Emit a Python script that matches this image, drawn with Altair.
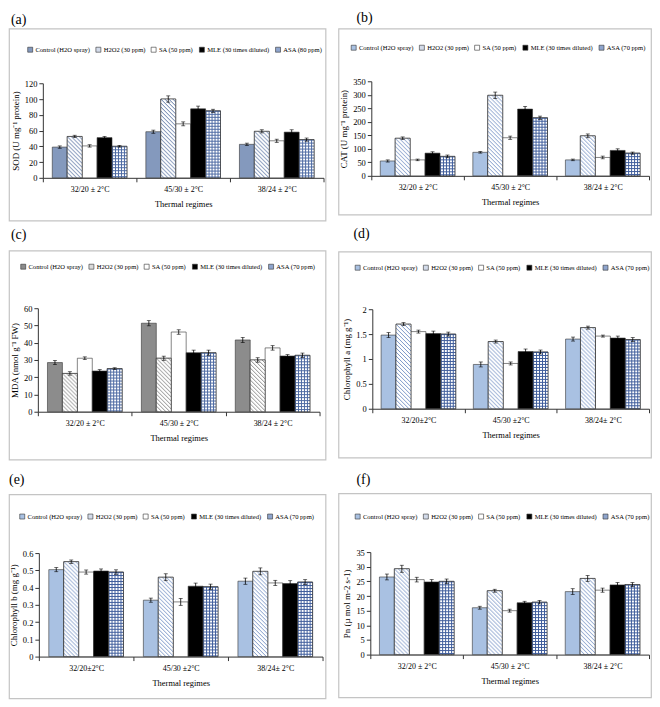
import base64
import altair as alt
import pandas as pd

# ---------------- data ----------------
regimes = ["32/20 ± 2°C", "45/30 ± 2°C", "38/24 ± 2°C"]
regimes_chl = ["32/20±2°C", "45/30 ±2°C", "38/24± 2°C"]
treatments_80 = ["Control (H2O spray)", "H2O2 (30 ppm)", "SA (50 ppm)",
                 "MLE (30 times diluted)", "ASA (80 ppm)"]
treatments_70 = ["Control (H2O spray)", "H2O2 (30 ppm)", "SA (50 ppm)",
                 "MLE (30 times diluted)", "ASA (70 ppm)"]

# rows = regimes, columns = treatments
sod_mean = [[39, 52.5, 40.5, 51, 40], [58.5, 100, 68.5, 87.5, 85], [42.5, 59, 47, 58, 48.5]]
sod_err = [[1.5, 1.5, 1.5, 1.5, 1], [2, 4, 2.5, 3.5, 2], [1.5, 2, 2, 3, 2]]
cat_mean = [[55, 139, 59, 84, 72], [87, 298, 141, 247, 215], [59, 148, 68, 94, 84]]
cat_err = [[4, 5, 3, 5, 5], [3, 12, 6, 10, 6], [3, 7, 5, 6, 4]]
mda_mean = [[28.5, 22.2, 31, 23.6, 25], [51.3, 31, 46.2, 34.2, 34.2], [41.6, 30, 37, 32.3, 32.7]]
mda_err = [[1.2, 1, 0.8, 0.8, 0.5], [1.5, 1.2, 1.3, 1.5, 1.5], [1.5, 1.3, 1.3, 0.8, 1.3]]
chla_mean = [[1.48, 1.70, 1.55, 1.51, 1.50], [0.89, 1.35, 0.91, 1.15, 1.14], [1.40, 1.63, 1.46, 1.42, 1.39]]
chla_err = [[0.05, 0.03, 0.03, 0.05, 0.04], [0.05, 0.03, 0.03, 0.05, 0.04], [0.04, 0.03, 0.02, 0.04, 0.04]]
chlb_mean = [[0.504, 0.55, 0.49, 0.496, 0.49], [0.327, 0.46, 0.317, 0.408, 0.405], [0.437, 0.494, 0.427, 0.423, 0.432]]
chlb_err = [[0.012, 0.01, 0.012, 0.012, 0.013], [0.012, 0.02, 0.02, 0.018, 0.015], [0.018, 0.02, 0.015, 0.017, 0.014]]
pn_mean = [[26.5, 29.3, 25.6, 24.8, 25], [16, 21.8, 15, 17.7, 17.9], [21.5, 26, 22, 23.8, 23.9]]
pn_err = [[1, 1.2, 0.8, 0.8, 0.8], [0.5, 0.5, 0.5, 0.5, 0.6], [1, 1, 0.7, 0.8, 0.7]]

FONT = "Liberation Serif"


def pattern_uri(kind, color):
    if kind == "hatch":
        body = ("<pattern id='p' width='4' height='4' patternUnits='userSpaceOnUse'>"
                "<rect width='4' height='4' fill='white'/>"
                f"<path d='M-1,-1L5,5M-1,3L1,5M3,-1L5,1' stroke='{color}' stroke-width='1'/>"
                "</pattern>")
    else:
        body = ("<pattern id='p' width='3' height='3' patternUnits='userSpaceOnUse'>"
                "<rect width='3' height='3' fill='white'/>"
                f"<path d='M0,0.5H3M0.5,0V3' stroke='{color}' stroke-width='1'/>"
                "</pattern>")
    svg = ("<svg xmlns='http://www.w3.org/2000/svg' width='100%' height='100%'><defs>"
           + body + "</defs><rect width='100%' height='100%' fill='url(#p)'/></svg>")
    return "data:image/svg+xml;base64," + base64.b64encode(svg.encode()).decode()


def panel(label, ylabel, regs, treats, means, errs, ymax, ystep, colors,
          hatch_color, grid_color, g):
    rows = []
    for i, r in enumerate(regs):
        for j, t in enumerate(treats):
            rows.append({"regime": r, "treatment": t,
                         "value": means[i][j], "err": errs[i][j]})
    df = pd.DataFrame(rows)

    w, h = g["w"], g["h"]
    band = (g["xr"] - g["ax"]) / 3.0
    po = (band / g["bw"] - 5) / 2.0

    xenc = alt.X("regime:N", sort=regs,
                 scale=alt.Scale(range=[g["ax"], g["xr"]], paddingInner=0, paddingOuter=0),
                 axis=alt.Axis(title="Thermal regimes", offset=-(h - g["y0"]), labelAngle=0,
                               tickBand="extent", tickSize=4, labelPadding=4,
                               labelFontSize=8, titleFontSize=8.5, titlePadding=6,
                               labelOverlap=False, domainWidth=1))
    xoff = alt.XOffset("treatment:N", sort=treats,
                       scale=alt.Scale(paddingInner=0, paddingOuter=po))
    nticks = int(round(ymax / ystep))
    yvals = [round(k * ystep, 6) for k in range(nticks + 1)]
    yscale = alt.Scale(domain=[0, ymax], range=[g["y0"], g["yt"]], nice=False, zero=True)
    yaxis = alt.Axis(title=ylabel, offset=-g["ax"], values=yvals, format=".4~r",
                     tickSize=4, labelFontSize=8.5, titleFontSize=9, titlePadding=4,
                     labelPadding=2, labelOverlap=False, domainWidth=1)

    def Y(field):
        return alt.Y(field, scale=yscale, axis=yaxis)

    base = alt.Chart(df).encode(x=xenc, xOffset=xoff)

    bars = base.mark_bar(stroke="#333333", strokeWidth=0.6).encode(
        y=Y("value:Q"),
        color=alt.Color("treatment:N",
                        scale=alt.Scale(domain=treats, range=colors),
                        legend=alt.Legend(orient="none", legendX=g["lx"], legendY=g["ly"],
                                          direction="horizontal", title=None,
                                          symbolType="square", symbolSize=25,
                                          symbolStrokeColor="#333333", symbolStrokeWidth=0.6,
                                          labelFont=FONT, labelFontSize=6.6, labelColor="black",
                                          columnPadding=3.5, labelOffset=2, padding=0,
                                          labelLimit=0)))
    hatch = base.transform_filter(alt.datum.treatment == treats[1]).mark_image(
        aspect=False).encode(y=Y("value:Q"), y2=alt.datum(0),
                             url=alt.value(pattern_uri("hatch", hatch_color)))
    grid = base.transform_filter(alt.datum.treatment == treats[4]).mark_image(
        aspect=False).encode(y=Y("value:Q"), y2=alt.datum(0),
                             url=alt.value(pattern_uri("grid", grid_color)))
    outline = base.transform_filter(
        alt.FieldOneOfPredicate(field="treatment", oneOf=[treats[1], treats[4]])
    ).mark_bar(fillOpacity=0, stroke="#333333", strokeWidth=0.6).encode(y=Y("value:Q"))

    eb = base.transform_calculate(lo="datum.value - datum.err", hi="datum.value + datum.err")
    rule = eb.mark_rule(color="black", strokeWidth=0.8).encode(y=Y("lo:Q"), y2="hi:Q")
    tlo = eb.mark_tick(color="black", size=4, thickness=0.8).encode(y=Y("lo:Q"))
    thi = eb.mark_tick(color="black", size=4, thickness=0.8).encode(y=Y("hi:Q"))

    return alt.layer(bars, hatch, grid, outline, rule, tlo, thi).properties(
        width=w, height=h,
        title=alt.TitleParams(text=label, anchor="start", dx=g["tdx"], offset=g["toff"],
                              fontSize=14, font=FONT, fontWeight="normal", color="black"),
    ).resolve_scale(color="independent")


blue_ctrl = "#a9c1e2"
cols_a = ["#8499bd", "#d3dbea", "white", "black", "#8fa5cd"]
cols_b = [blue_ctrl, "#d3dbea", "white", "black", "#8fa5cd"]
cols_c = ["#8c8c8c", "#dadada", "white", "black", "#8fa5cd"]

ga = dict(w=318, h=193, ax=34, xr=316, y0=150, yt=55, bw=15, lx=18, ly=18, tdx=2, toff=2)
gb = dict(w=314, h=187, ax=33, xr=312, y0=148, yt=53, bw=15, lx=12, ly=16, tdx=18, toff=4)
gc = dict(w=318, h=210, ax=29, xr=312, y0=162, yt=58, bw=15, lx=11, ly=13, tdx=2, toff=9)
gd = dict(w=314, h=207, ax=34, xr=312, y0=158, yt=58, bw=15, lx=16, ly=13, tdx=15, toff=11)
ge = dict(w=318, h=205, ax=30, xr=315, y0=163, yt=59, bw=15, lx=10, ly=19, tdx=0, toff=7)
gf = dict(w=314, h=205, ax=32, xr=312, y0=162, yt=59, bw=15, lx=16, ly=20, tdx=18, toff=6)

pa = panel("(a)", "SOD (U mg⁻¹ protein)", regimes, treatments_80, sod_mean, sod_err,
           120, 20, cols_a, "#5f78a6", "#4d6aa3", ga)
pb = panel("(b)", "CAT (U mg⁻¹ protein)", regimes, treatments_70, cat_mean, cat_err,
           350, 50, cols_b, "#7d98c8", "#3f5d9c", gb)
pc = panel("(c)", "MDA (nmol g⁻¹ FW)", regimes, treatments_70, mda_mean, mda_err,
           60, 10, cols_c, "#8a8a8a", "#4d6aa3", gc)
pd_ = panel("(d)", "Chlorophyll a  (mg g⁻¹)", regimes_chl, treatments_70, chla_mean, chla_err,
            2, 0.5, cols_b, "#7d98c8", "#3f5d9c", gd)
pe = panel("(e)", "Chlorophyll b (mg g⁻¹)", regimes_chl, treatments_70, chlb_mean, chlb_err,
           0.6, 0.1, cols_b, "#7d98c8", "#3f5d9c", ge)
pf = panel("(f)", "Pn (µ mol m-2 s-1)", regimes, treatments_70, pn_mean, pn_err,
           35, 5, cols_b, "#7d98c8", "#3f5d9c", gf)


def ind(c):
    return c.resolve_scale(color="independent", xOffset="independent").resolve_legend(
        color="independent")


left = ind(alt.vconcat(ind(alt.vconcat(pa, pc, spacing=5)), pe, spacing=12))
right = ind(alt.vconcat(ind(alt.vconcat(pb, pd_, spacing=10)), pf, spacing=14))

chart = ind(alt.hconcat(left, right, spacing=11)).properties(
    padding=0, background="white"
).configure_view(
    stroke="#c4c4c4", strokeWidth=1.2
).configure_axis(
    labelFont=FONT, titleFont=FONT, labelColor="black", titleColor="black",
    domainColor="#333333", tickColor="#333333", titleFontWeight="normal", grid=False
).configure_title(
    font=FONT, fontWeight="normal"
)

chart.save("out.html", embed_options={"renderer": "svg", "actions": False})
